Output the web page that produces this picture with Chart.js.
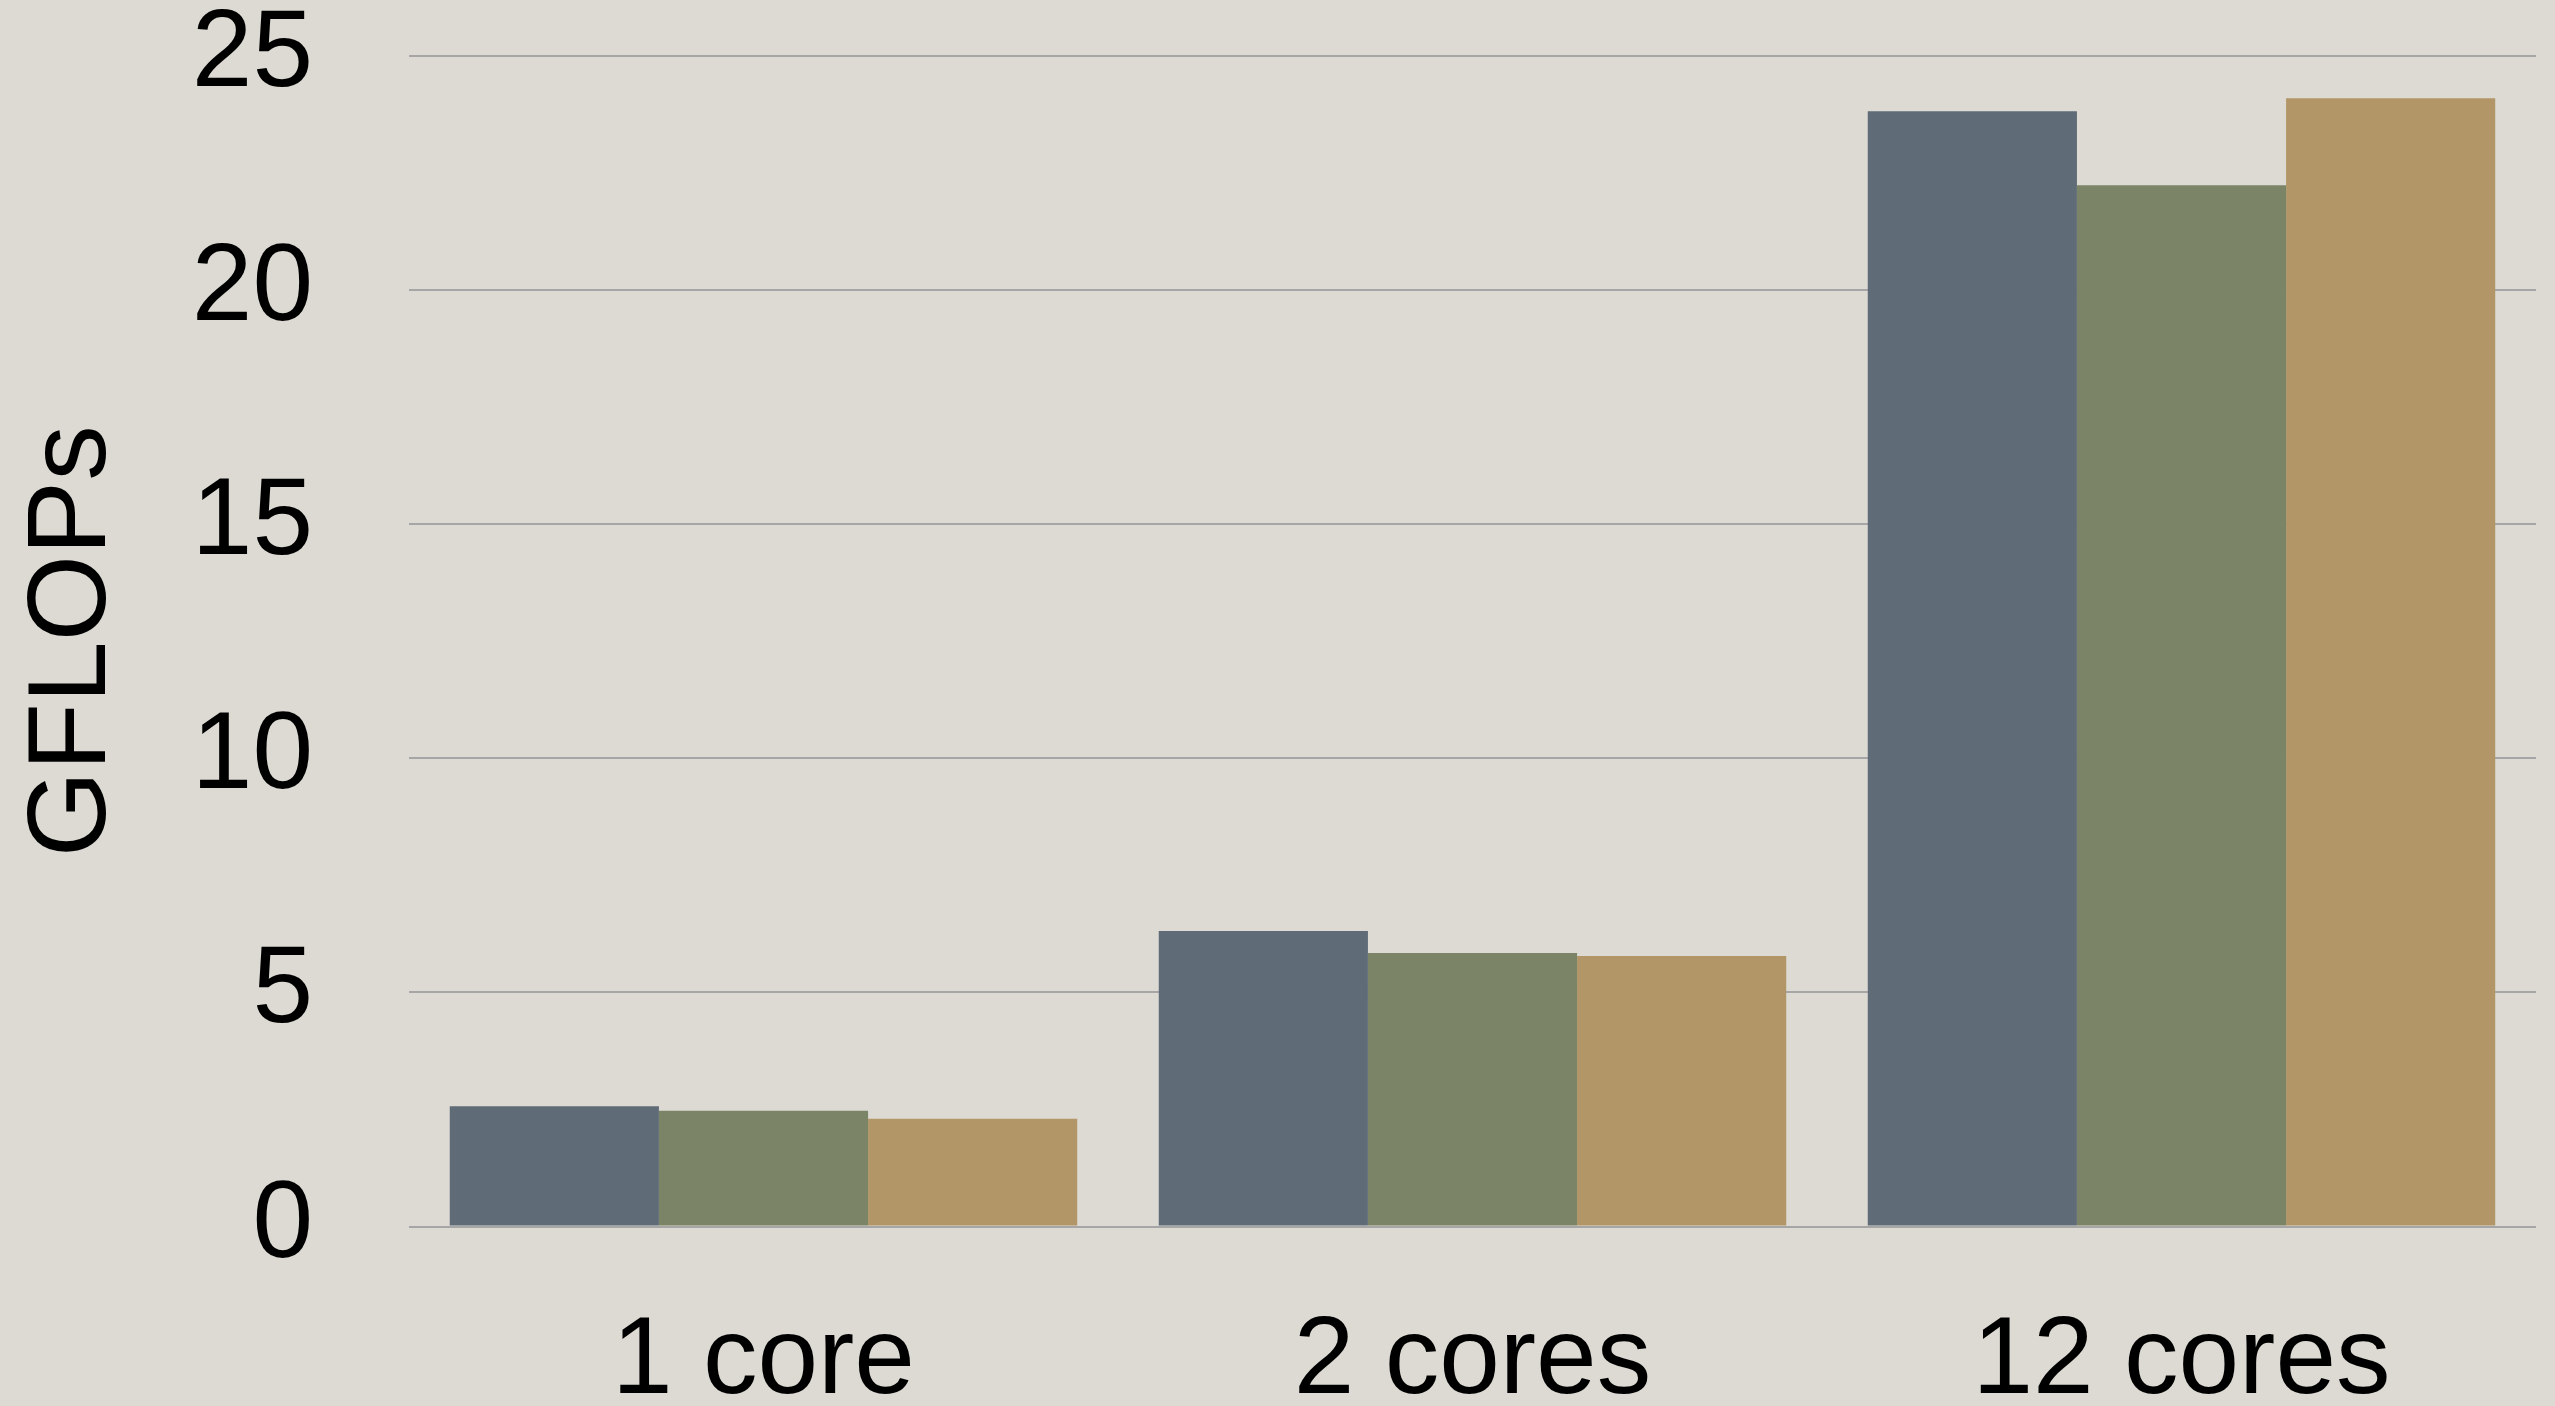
<!DOCTYPE html>
<html>
<head>
<meta charset="utf-8">
<script src="https://cdn.jsdelivr.net/npm/chart.js@4.4.1/dist/chart.umd.min.js"></script>
<style>
html, body { margin: 0; padding: 0; background: #dcdad3; overflow: hidden; }
#wrap { position: relative; width: 2555px; height: 1406px; }
</style>
</head>
<body>
<div id="wrap"><canvas id="gflopsChart"></canvas></div>
<script>
const categories = ['1 core', '2 cores', '12 cores'];
const seriesA = [2.57, 6.31, 23.82];
const seriesB = [2.47, 5.84, 22.24];
const seriesC = [2.30, 5.78, 24.10];
const yTicks = [0, 5, 10, 15, 20, 25];

const FONT = '"Liberation Sans", Arial, Helvetica, sans-serif';

const ctx = document.getElementById('gflopsChart').getContext('2d');
const chart = new Chart(ctx, {
  type: 'bar',
  data: {
    labels: categories,
    datasets: [
      { label: 'Series 1', data: seriesA, backgroundColor: '#5f6b77' },
      { label: 'Series 2', data: seriesB, backgroundColor: '#7c8467' },
      { label: 'Series 3', data: seriesC, backgroundColor: '#b39667' }
    ]
  },
  options: {
    responsive: true,
    maintainAspectRatio: false,
    animation: false,
    layout: { padding: { top: 56, right: 19, bottom: 0, left: 0 } },
    datasets: { bar: { categoryPercentage: 0.885, barPercentage: 1.0, borderWidth: 0 } },
    plugins: { legend: { display: false }, tooltip: { enabled: false } },
    scales: {
      x: {
        grid: { display: false, drawTicks: false },
        border: { display: false },
        ticks: { color: '#000', padding: 82, font: { family: FONT, size: 109, lineHeight: 1 } },
        afterFit: function(s) { s.height = 179.5; s.paddingLeft = 0; s.paddingRight = 0; }
      },
      y: {
        min: 0, max: 25,
        afterBuildTicks: function(s) { s.ticks = yTicks.map(function(v) { return { value: v }; }); },
        grid: { color: '#a6a6a6', lineWidth: 2, drawTicks: false },
        border: { display: false },
        ticks: { color: '#000', padding: 96, font: { family: FONT, size: 109, lineHeight: 1 } },
        title: { display: true, text: 'GFLOPs', color: '#000', padding: { top: 8, bottom: 0 }, font: { family: FONT, size: 111, lineHeight: 1.2 } },
        afterFit: function(s) { s.width = 409; s.paddingTop = 0; s.paddingBottom = 0; }
      }
    }
  }
});
</script>
</body>
</html>
